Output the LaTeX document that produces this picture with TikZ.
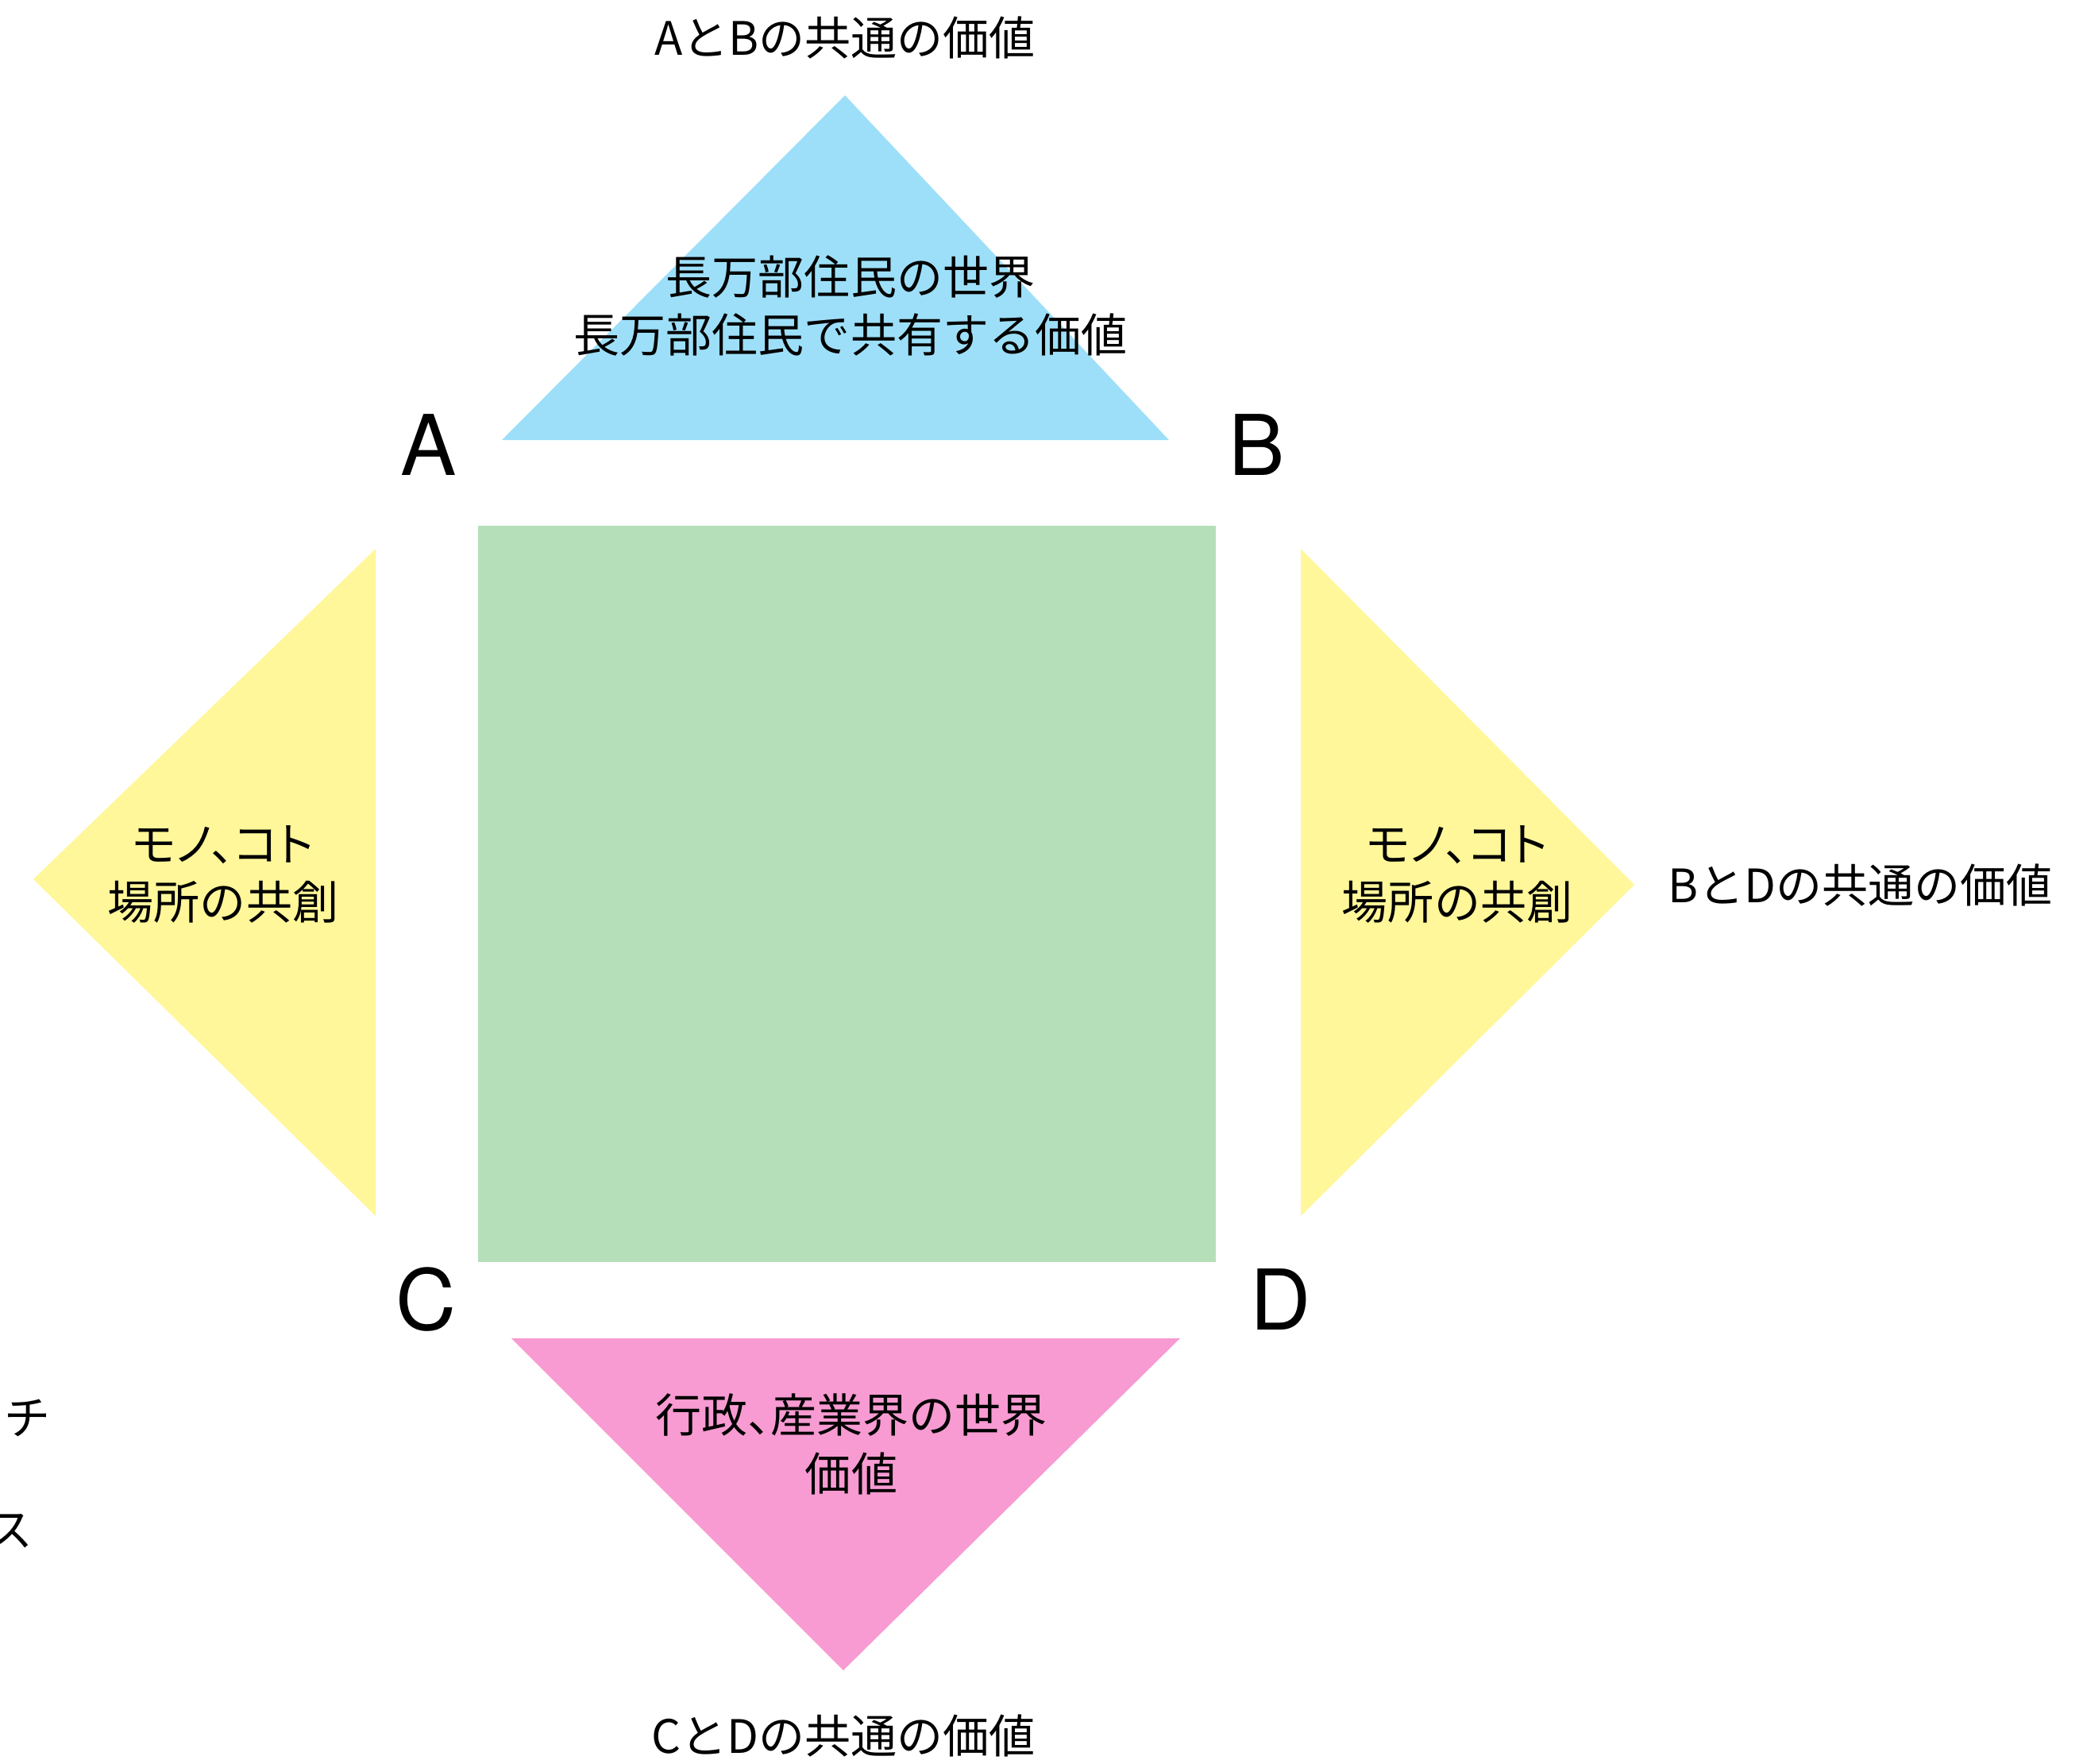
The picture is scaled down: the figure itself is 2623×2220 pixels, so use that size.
\documentclass[tikz,border=0pt]{standalone}
\usepackage{fontspec}
\setmainfont{Noto Sans CJK JP}
\newfontfamily\latinfont{TeX Gyre Heros}
\newfontfamily\paltfont[RawFeature=+palt]{Noto Sans CJK JP}
\newfontfamily\haltfont[RawFeature=+halt]{Noto Sans CJK JP}
\usepackage{tikz}
\usetikzlibrary{positioning}
\usepackage{xcolor}
\definecolor{vskyblue}{RGB}{157,223,248}
\definecolor{vgreen}{RGB}{181,223,184}
\definecolor{vyellow}{RGB}{255,247,154}
\definecolor{vpink}{RGB}{247,155,210}
\tikzstyle{valtext} = [font=\fontsize{16.5}{21}\selectfont, align=center, inner sep=0pt, text=black]
\tikzstyle{corner} = [font=\latinfont\fontsize{30}{36}\selectfont, inner sep=0pt]

\begin{document}
\begin{tikzpicture}[x=0.01cm, y=-0.01cm]
\useasboundingbox (0,0) rectangle (2623,2220);
% Shapes
\fill[vskyblue] (632,554) -- (1064,120) coordinate (topapex) -- (1472,554) -- cycle;
\fill[vgreen] (602,662) rectangle (1531,1589);
\fill[vyellow] (473,691) -- (42,1107) coordinate (leftapex) -- (473,1531) -- cycle;
\fill[vyellow] (1638,691) -- (2058,1114) coordinate (rightapex) -- (1638,1531) -- cycle;
\fill[vpink] (644,1685) -- (1062,2103) coordinate (bottomapex) -- (1486,1685) -- cycle;

% Corners
\node[corner] (a) at (540,560) {A};
\node[corner] (b) at (1583,560) {B};
\node[corner] (c) at (537,1636) {C};
\node[corner] (d) at (1613,1636) {D};

% Values
\node[valtext, above=0.45cm of topapex] (ab) {AとBの共通の価値};
\node[valtext] (resident) at (1071,385) {長万部住民の世界\\長万部住民で共有する価値};
\node[valtext] (leftthing) at (281,1101) {{\paltfont モノ、コト}\\場所の共創};
\node[valtext] (rightthing) at (1835,1101) {{\paltfont モノ、コト}\\場所の共創};
\node[valtext, right=0.42cm of rightapex] (bd) {BとDの共通の価値};
\node[valtext] (admin) at (1072,1818) {{\haltfont 行政、産業界の世界}\\価値};
\node[valtext, below=0.55cm of bottomapex] (cd) {CとDの共通の価値};

% Cut off at the left edge
\node[valtext, anchor=east] (cut1) at (64,1785) {チ};
\node[valtext, anchor=east] (cut2) at (42,1928) {ス};
\end{tikzpicture}
\end{document}
